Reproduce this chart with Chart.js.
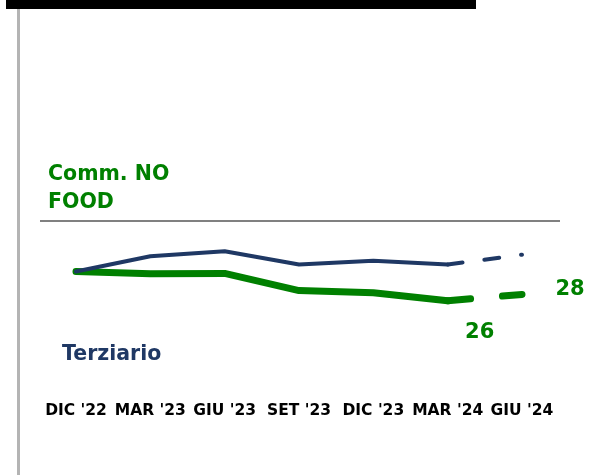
<!DOCTYPE html>
<html>
<head>
<meta charset="utf-8">
<script src="https://cdn.jsdelivr.net/npm/chart.js@4/dist/chart.umd.min.js"></script>
<style>
  html, body { margin: 0; padding: 0; background: #ffffff; }
  canvas { display: block; }
</style>
</head>
<body>
<canvas id="c" width="589" height="475"></canvas>
<script>
const categories = ["DIC '22", "MAR '23", "GIU '23", "SET '23", "DIC '23", "MAR '24", "GIU '24"];
const terziario = [35.2, 40.0, 41.6, 37.4, 38.6, 37.4, 40.5];
const commNoFood = [35.2, 34.5, 34.6, 29.2, 28.5, 26, 28];
const valueLabels = ["26", "28"];
const seriesNames = ["Terziario", "Comm. NO FOOD"];

const NAVY = "#1f3864";
const GREEN = "#008000";
const FONT = "'DejaVu Sans', sans-serif";

const decor = {
  id: "decor",
  beforeDraw(chart) {
    const ctx = chart.ctx;
    ctx.save();
    ctx.fillStyle = "#ffffff";
    ctx.fillRect(0, 0, chart.width, chart.height);
    // top black bar
    ctx.fillStyle = "#000000";
    ctx.fillRect(6, 0, 470, 9);
    // left grey vertical rule
    ctx.fillStyle = "#b4b4b4";
    ctx.fillRect(17, 9, 3, chart.height - 9);
    // grey horizontal rule
    ctx.fillStyle = "#808080";
    ctx.fillRect(40, 220, 520, 2);
    ctx.restore();
  },
  afterDraw(chart) {
    const ctx = chart.ctx;
    ctx.save();
    ctx.textBaseline = "middle";
    ctx.textAlign = "left";
    // series titles
    ctx.font = "bold 20.5px " + FONT;
    ctx.fillStyle = GREEN;
    ctx.fillText("Comm. NO", 48, 175);
    ctx.fillText("FOOD", 48, 203);
    ctx.fillStyle = NAVY;
    ctx.fillText(seriesNames[0], 62, 355);
    // value labels on green series (last two points)
    const meta = chart.getDatasetMeta(1);
    const pA = meta.data[5], pB = meta.data[6];
    ctx.font = "bold 21px " + FONT;
    ctx.fillStyle = GREEN;
    ctx.textAlign = "center";
    ctx.fillText(valueLabels[0], pA.x + 32, pA.y + 32);
    ctx.fillText(valueLabels[1], pB.x + 48, pB.y - 5);
    ctx.restore();
  }
};

new Chart(document.getElementById("c"), {
  type: "line",
  data: {
    labels: categories,
    datasets: [
      {
        label: seriesNames[0],
        data: terziario,
        borderColor: NAVY,
        borderWidth: 4,
        pointRadius: 0,
        tension: 0,
        borderCapStyle: "round",
        borderJoinStyle: "round",
        clip: false,
        segment: { borderDash: c => c.p1DataIndex === 6 ? [15, 22] : undefined }
      },
      {
        label: seriesNames[1],
        data: commNoFood,
        borderColor: GREEN,
        borderWidth: 7,
        pointRadius: 0,
        tension: 0,
        borderCapStyle: "round",
        borderJoinStyle: "round",
        clip: false,
        segment: { borderDash: c => c.p1DataIndex === 6 ? [23, 32] : undefined }
      }
    ]
  },
  options: {
    responsive: false,
    animation: false,
    layout: { padding: { left: 76, right: 67, top: 224.5, bottom: 37 } },
    plugins: { legend: { display: false }, tooltip: { enabled: false } },
    scales: {
      x: {
        grid: { display: false, drawTicks: false },
        border: { display: false },
        ticks: {
          autoSkip: false,
          maxRotation: 0,
          minRotation: 0,
          padding: 18,
          color: "#000000",
          font: { family: FONT, weight: "bold", size: 15.5 }
        }
      },
      y: {
        display: false,
        min: 0,
        max: 50
      }
    }
  },
  plugins: [decor]
});
</script>
</body>
</html>
